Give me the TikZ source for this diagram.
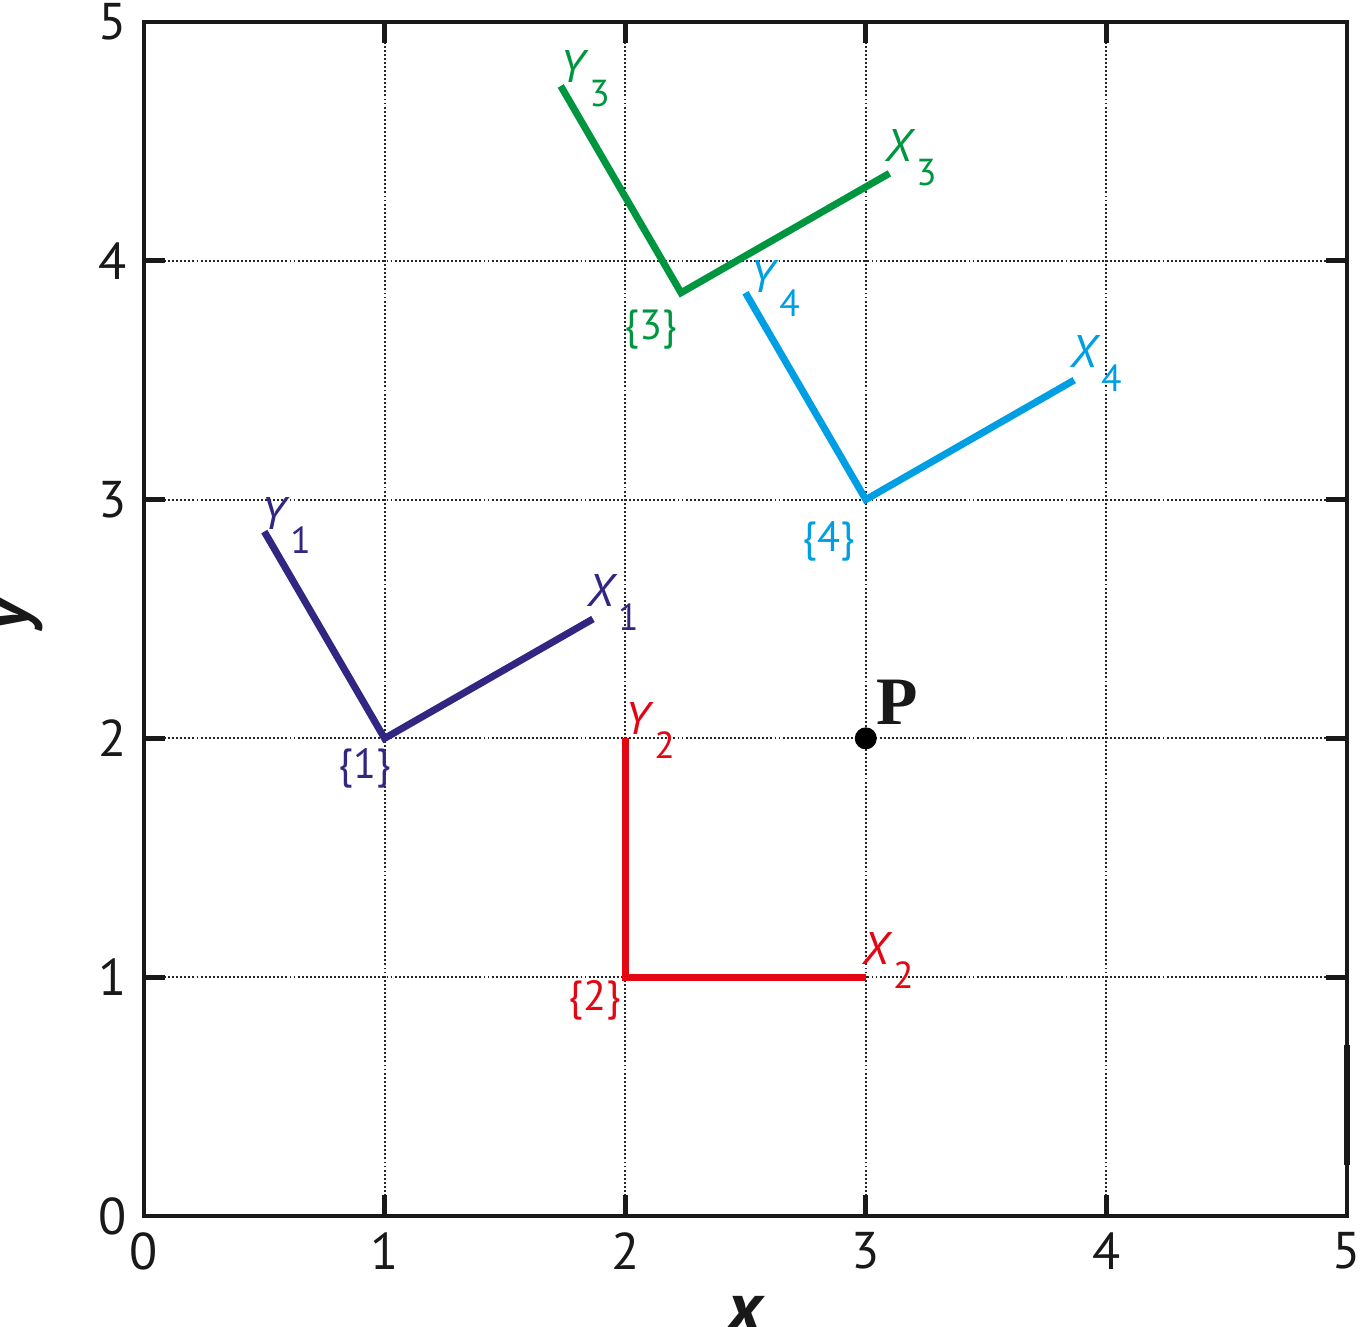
\documentclass[tikz,border=0pt]{standalone}
\usepackage{fontspec}
\setmainfont{PT Sans}
\newfontfamily\pserif{Liberation Serif}
\definecolor{cOne}{HTML}{312783}
\definecolor{cTwo}{HTML}{E30613}
\definecolor{cThree}{HTML}{009640}
\definecolor{cFour}{HTML}{009FE3}
\newcommand\axlab[2]{\fontsize{13}{13}\selectfont\textit{#1}\raisebox{-6.6pt}{\fontsize{10.7}{11}\selectfont #2}}
\tikzset{
  gridline/.style={line width=0.6pt, dash pattern=on 0.55pt off 0.6pt, black!85},
  tickmark/.style={line width=1.4pt, black!90},
  boxline/.style={line width=1.15pt, black!90},
  framelines/.style={line width=2pt, line join=miter},
  ticklab/.style={font=\fontsize{14.7}{15}\selectfont, text=black!90, inner sep=0pt},
  axislab/.style={font=\fontsize{20}{20}\selectfont\bfseries\itshape, text=black!90, inner sep=0pt},
  flab/.style={inner sep=0pt, anchor=base west},
  olab/.style={inner sep=0pt, font=\fontsize{12}{12}\selectfont},
}
\begin{document}
\begin{tikzpicture}[x=2.406cm,y=2.388cm]
\useasboundingbox (-0.5985,-0.4648) rectangle (5.0665,5.0921);
\clip (-0.5985,-0.4648) rectangle (5.0665,5.0921);
% grid
\foreach \i in {1,2,3,4} {
  \draw[gridline] (\i,0) -- (\i,5);
  \draw[gridline] (0,\i) -- (5,\i);
}
% ticks
\foreach \i in {1,2,3,4} {
  \draw[tickmark] (\i,0) -- (\i,0.087);
  \draw[tickmark] (\i,5) -- (\i,4.913);
  \draw[tickmark] (0,\i) -- (0.087,\i);
  \draw[tickmark] (5,\i) -- (4.913,\i);
}
% box
\draw[boxline] (0,0) rectangle (5,5);
\draw[line width=1.7pt, black!90] (5,0.214) -- (5,0.716);
% tick labels
\foreach \i in {0,1,2,3,4,5} {
  \node[ticklab] (xt\i) at (\i,-0.147) {\i};
  \node[ticklab] (yt\i) at (-0.129,\i) {\i};
}
% axis labels
\node[axislab, anchor=base] (xlab) at (2.498,-0.482) {x};
\node[axislab, anchor=base, rotate=90] (ylab) at (-0.478,2.52) {y};
% frames
\coordinate (O1) at (1,2);     \coordinate (X1) at (1.866,2.5);   \coordinate (Y1) at (0.5,2.866);
\coordinate (O2) at (2,1);     \coordinate (X2) at (3,1);         \coordinate (Y2) at (2,2);
\coordinate (O3) at (2.232,3.866); \coordinate (X3) at (3.098,4.366); \coordinate (Y3) at (1.732,4.732);
\coordinate (O4) at (3,3);     \coordinate (X4) at (3.866,3.5);   \coordinate (Y4) at (2.5,3.866);
\draw[framelines, cOne] (Y1) -- (O1) -- (X1);
\draw[framelines, cTwo] (Y2) -- (O2) -- (X2);
\draw[framelines, cThree] (Y3) -- (O3) -- (X3);
\draw[framelines, cFour] (Y4) -- (O4) -- (X4);
% point P
\fill[black] (3,2) circle (1.1mm) coordinate (P);
% labels in pixel coordinates
\begin{scope}[shift={(-14.4mm,121.6mm)}, x=0.1mm, y=-0.1mm]
  \node[flab, text=cOne] (lY1) at (261,530) {\axlab{Y}{1}};
  \node[flab, text=cOne] (lX1) at (587,607) {\axlab{X}{1}};
  \node[olab, text=cOne] (l1) at (365,768) {\{1\}};
  \node[flab, text=cTwo] (lY2) at (625,735) {\axlab{Y}{2}};
  \node[flab, text=cTwo] (lX2) at (862,965) {\axlab{X}{2}};
  \node[olab, text=cTwo] (l2) at (595,1000) {\{2\}};
  \node[flab, text=cThree] (lY3) at (560,83) {\axlab{Y}{3}};
  \node[flab, text=cThree] (lX3) at (885,162) {\axlab{X}{3}};
  \node[olab, text=cThree] (l3) at (651,330) {\{3\}};
  \node[flab, text=cFour] (lY4) at (750,293) {\axlab{Y}{4}};
  \node[flab, text=cFour] (lX4) at (1070,368) {\axlab{X}{4}};
  \node[olab, text=cFour] (l4) at (829,541) {\{4\}};
  \node[flab, font=\fontsize{19.3}{20}\pserif\bfseries, text=black!90] (lP) at (876,725) {P};
\end{scope}
\end{tikzpicture}
\end{document}
